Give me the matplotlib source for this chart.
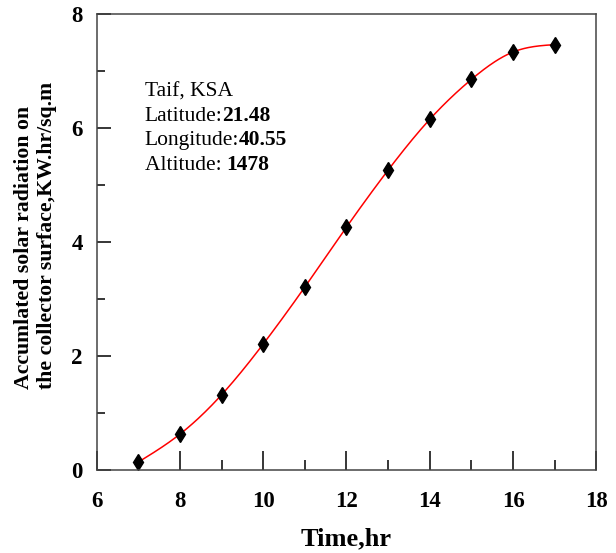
import matplotlib
matplotlib.use("Agg")
import matplotlib.pyplot as plt
import matplotlib.ticker as mticker
import numpy as np

# hourly accumulated solar radiation
hours = [7, 8, 9, 10, 11, 12, 13, 14, 15, 16, 17]
radiation = [0.14, 0.63, 1.32, 2.21, 3.21, 4.26, 5.26, 6.15, 6.85, 7.33, 7.46]

site_lines = [("Taif, KSA", ""), ("Latitude:", "21.48"),
              ("Longitude:", "40.55"), ("Altitude: ", "1478")]


def natural_spline(x, y, n=300):
    """Natural cubic spline through the points, for the smooth red line."""
    x = np.asarray(x, float)
    y = np.asarray(y, float)
    h = np.diff(x)
    k = len(x)
    A = np.zeros((k, k))
    b = np.zeros(k)
    A[0, 0] = A[-1, -1] = 1
    for i in range(1, k - 1):
        A[i, i - 1] = h[i - 1]
        A[i, i] = 2 * (h[i - 1] + h[i])
        A[i, i + 1] = h[i]
        b[i] = 6 * ((y[i + 1] - y[i]) / h[i] - (y[i] - y[i - 1]) / h[i - 1])
    m = np.linalg.solve(A, b)
    xs = np.linspace(x[0], x[-1], n)
    idx = np.clip(np.searchsorted(x, xs) - 1, 0, k - 2)
    x0, x1 = x[idx], x[idx + 1]
    hh = x1 - x0
    t0, t1 = x1 - xs, xs - x0
    ys = (m[idx] * t0 ** 3 + m[idx + 1] * t1 ** 3) / (6 * hh) \
        + (y[idx] / hh - m[idx] * hh / 6) * t0 \
        + (y[idx + 1] / hh - m[idx + 1] * hh / 6) * t1
    return xs, ys


plt.rcParams["font.family"] = ["Liberation Serif", "DejaVu Serif"]

fig = plt.figure(figsize=(6.16, 5.53), dpi=100)
ax = fig.add_axes([0.157, 0.150, 0.811, 0.825])

xs, ys = natural_spline(hours, radiation)
ax.plot(xs, ys, color="red", lw=1.1)
ax.plot(hours, radiation, linestyle="none", marker="d", color="black",
        markersize=8)

ax.set_xlim(6, 18)
ax.set_ylim(0, 8)
ax.xaxis.set_major_locator(mticker.MultipleLocator(2))
ax.xaxis.set_minor_locator(mticker.MultipleLocator(1))
ax.yaxis.set_major_locator(mticker.MultipleLocator(2))
ax.yaxis.set_minor_locator(mticker.MultipleLocator(1))
ax.tick_params(axis="x", which="major", direction="in", length=14, width=1.1,
               pad=15, labelsize=16.5)
ax.tick_params(axis="x", which="minor", direction="in", length=7.5, width=1.1)
ax.tick_params(axis="y", which="major", direction="in", length=10, width=1.1,
               pad=10, labelsize=16.5)
ax.tick_params(axis="y", which="minor", direction="in", length=6, width=1.1)
for lab in ax.get_xticklabels() + ax.get_yticklabels():
    lab.set_fontweight("bold")
for sp in ax.spines.values():
    sp.set_linewidth(1.1)
    sp.set_color("#444444")

ax.set_xlabel("Time,hr", fontsize=19, fontweight="bold", labelpad=11)
fig.text(0.057, 0.297,
         "Accumlated solar radiation on\nthe collector surface,KW.hr/sq.m",
         rotation=90, ha="center", va="bottom", multialignment="left",
         fontsize=15.7, fontweight="bold")

y0 = 0.818
for i, (plain, bold) in enumerate(site_lines):
    t = ax.text(0.096, y0 - i * 0.0533, plain, transform=ax.transAxes,
                fontsize=15.5, va="baseline")
    if bold:
        ax.annotate(bold, xy=(1, 0), xycoords=t, va="bottom", ha="left",
                    fontsize=15.5, fontweight="bold")

fig.savefig("out.png", dpi=100)
